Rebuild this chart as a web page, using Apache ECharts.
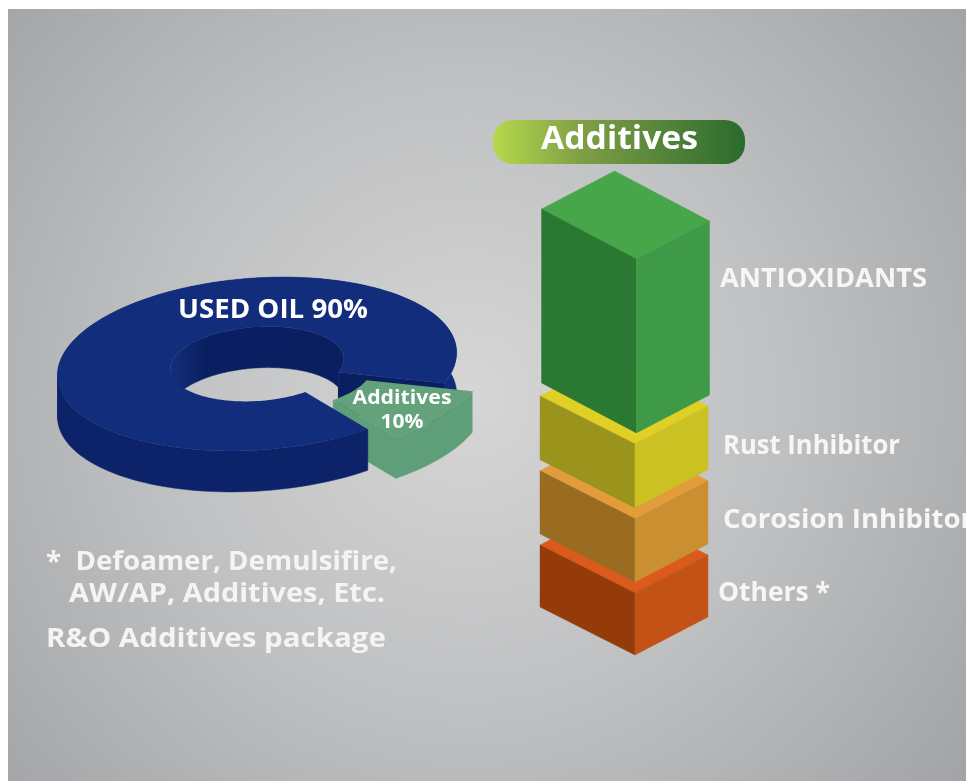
<!DOCTYPE html>
<html><head><meta charset="utf-8">
<style>html,body{margin:0;padding:0;background:#fff}#c{width:966px;height:781px}</style>
<script src="https://cdn.jsdelivr.net/npm/echarts@6/dist/echarts.min.js"></script>
</head><body><div id="c"></div>
<script>
// ---- data
const donutNames = ['USED OIL', 'Additives'];
const donutValues = [90, 10];
const stackNames = ['Others *', 'Corosion Inhibitor', 'Rust Inhibitor', 'ANTIOXIDANTS'];
const stackValues = [17.1, 17.4, 17.6, 47.9];
const titleText = 'Additives';
const noteLines = ['*  Defoamer, Demulsifire,', 'AW/AP, Additives, Etc.', 'R&O Additives package'];

// ---- styles
const FAMILY = "'Open Sans'";
const stackColors = [
  {top:'#dc5b1c', left:'#953b09', right:'#c25216'},
  {top:'#e39c3b', left:'#9a6c21', right:'#c98f31'},
  {top:'#e0d026', left:'#9a931c', right:'#cbc122'},
  {top:'#47a54a', left:'#2a7832', right:'#3f9a47'}
];
const stackLabelLayout = [
  {x:718, y:593, w:112}, {x:723, y:520, w:250}, {x:723, y:446, w:177}, {x:720, y:279, w:207}
];
const BLUE_TOP='#122d7b', BLUE_SIDE='#0c2369', BLUE_BACK='#112c7a';
const GREEN_TOP='#63a27b', GREEN_SIDE='#5e9e78';
const cx=257, cy=364, rx=200, ry=86, irx=87, iry=37, thick=41, tilt=-4*Math.PI/180;
const wedgeOffset=[28,8];
const wedgeMidDeg=40; // centre of the pulled-out slice, in the ellipse's parameter angle

const mctx=document.createElement('canvas').getContext('2d');
// real text, stretched horizontally to the reference's run length
function fitText(text,x,y,size,width,align,fill,z2){
  const font='bold '+size+'px '+FAMILY;
  mctx.font=font;
  const s=width/mctx.measureText(text).width;
  const el={type:'text',x:x,y:y,scaleX:s,style:{text:text,x:0,y:0,align:align,verticalAlign:'middle',font:font,fill:fill,
    shadowColor:'rgba(255,255,255,.35)',shadowBlur:2}};
  if(z2!=null) el.z2=z2;
  return el;
}
function pt(tDeg, outer, dx, dy){
  const t=tDeg*Math.PI/180, a=(outer?rx:irx)*Math.cos(t), b=(outer?ry:iry)*Math.sin(t);
  return [cx+a*Math.cos(tilt)-b*Math.sin(tilt)+(dx||0), cy+a*Math.sin(tilt)+b*Math.cos(tilt)+(dy||0)];
}
function arc(from,to,outer,dx,dy){
  const n=Math.max(2,Math.ceil(Math.abs(to-from)/2)), r=[];
  for(let i=0;i<=n;i++) r.push(pt(from+(to-from)*i/n,outer,dx,dy));
  return r;
}
function band(from,to,outer,dx,dy,z,fill){
  const pts=arc(from,to,outer,dx,dy).concat(arc(to,from,outer,dx,(dy||0)+thick));
  return {type:'polygon',z2:z,shape:{points:pts},style:{fill:fill,stroke:fill,lineWidth:.5}};
}
function ring(from,to,dx,dy,z,fill){
  const pts=arc(from,to,true,dx,dy).concat(arc(to,from,false,dx,dy));
  return {type:'polygon',z2:z,shape:{points:pts},style:{fill:fill}};
}
function wall(t,dx,dy,z,fill){
  const a=pt(t,false,dx,dy), b=pt(t,true,dx,dy);
  return {type:'polygon',z2:z,shape:{points:[a,b,[b[0],b[1]+thick],[a[0],a[1]+thick]]},style:{fill:fill,stroke:fill,lineWidth:.5}};
}
function renderDonut(params, api){
  const total=donutValues.reduce((s,v)=>s+v,0);
  const wedgeSweep=donutValues[1]/total*360;
  const a0=wedgeMidDeg-wedgeSweep/2, a1=wedgeMidDeg+wedgeSweep/2; // wedge range
  const dx=wedgeOffset[0], dy=wedgeOffset[1];
  const children=[];
  if(params.dataIndex===0){
    const end=a0+360;
    children.push(band(180,end,true,0,0,1,BLUE_BACK));
    children.push(band(180,end,false,0,0,2,{type:'linear',x:0,y:0,x2:1,y2:0,
      colorStops:[{offset:0,color:'#12307c'},{offset:.2,color:'#0a1f62'},{offset:1,color:'#0a1f60'}]}));
    children.push(wall(end,0,0,3,'#0a1f60'));
    children.push(band(a1,180,true,0,0,10,BLUE_SIDE));
    children.push(ring(a1,end,0,0,11,BLUE_TOP));
    children.push(fitText(donutNames[0]+' '+donutValues[0]+'%',273,310,27,190,'center','#fff',20));
  } else {
    children.push(wall(a1,dx,dy,5,GREEN_SIDE));
    children.push(band(a0,a1,true,dx,dy,5,GREEN_SIDE));
    children.push(ring(a0,a1,dx,dy,6,GREEN_TOP));
    children.push(fitText(donutNames[1],402,398,20,99,'center','#fff',20));
    children.push(fitText(donutValues[1]+'%',402,422,20,43,'center','#fff',20));
  }
  return {type:'group',children:children};
}
function renderBox(params, api){
  const i=params.dataIndex;
  let base=0; for(let k=0;k<i;k++) base+=stackValues[k];
  const GAP=11;
  const lift=GAP*i;
  const p0=api.coord([0,base]), p1=api.coord([1,base+api.value(1)]);
  const shift=i===3?1.5:0;
  const xl=p0[0]+shift, xr=p1[0]+shift, xf=xl+(xr-xl)*0.565;
  const yb=p0[1]-lift, yt=p1[1]-lift;
  const dL=i===3?50:48, dR=38;
  const c=stackColors[i], L=stackLabelLayout[i];
  return {type:'group',children:[
    {type:'polygon',shape:{points:[[xf,yt],[xl,yt-dL],[xl+xr-xf,yt-dL-dR],[xr,yt-dR]]},style:{fill:c.top,stroke:c.top,lineWidth:.4}},
    {type:'polygon',shape:{points:[[xl,yt-dL],[xf,yt],[xf,yb],[xl,yb-dL]]},style:{fill:c.left,stroke:c.left,lineWidth:.4}},
    {type:'polygon',shape:{points:[[xf,yt],[xr,yt-dR],[xr,yb-dR],[xf,yb]]},style:{fill:c.right,stroke:c.right,lineWidth:.4}},
    fitText(stackNames[i],L.x,L.y,27,L.w,'left','#f6f6f6')
  ]};
}
const chart=echarts.init(document.getElementById('c'),null,{renderer:'canvas'});
chart.setOption({
  animation:false,
  backgroundColor:'#ffffff',
  graphic:[
    {type:'rect',z:-10,silent:true,shape:{x:8,y:9,width:958,height:772},style:{fill:{type:'radial',x:.48,y:.5,r:.82,
      colorStops:[{offset:0,color:'#d6d6d7'},{offset:.5,color:'#bfc0c1'},{offset:1,color:'#a1a3a6'}]}}},
    {type:'rect',shape:{x:493,y:120,width:252,height:44,r:20},style:{fill:{type:'linear',x:0,y:0,x2:1,y2:0,
      colorStops:[{offset:0,color:'#b5d94b'},{offset:.35,color:'#7f9f45'},{offset:1,color:'#2b6a2e'}]}}},
    fitText(titleText,619.5,140,33,157,'center','#fff'),
    fitText(noteLines[0],46,562,27,351,'left','#f4f4f4'),
    fitText(noteLines[1],69,594,27,316,'left','#f4f4f4'),
    fitText(noteLines[2],46,639,27,340,'left','#f4f4f4')
  ],
  grid:[{left:540,width:168,top:292,height:363}],
  xAxis:[{type:'value',min:0,max:1,show:false}],
  yAxis:[{type:'value',min:0,max:100,show:false}],
  series:[
    {type:'custom',coordinateSystem:'cartesian2d',xAxisIndex:0,yAxisIndex:0,clip:false,renderItem:renderBox,
     encode:{x:0,y:1},data:stackValues.map((v,i)=>[0,v])},
    {type:'custom',coordinateSystem:'none',renderItem:renderDonut,data:donutValues.map((v,i)=>[i,v])}
  ]
});
</script></body></html>
